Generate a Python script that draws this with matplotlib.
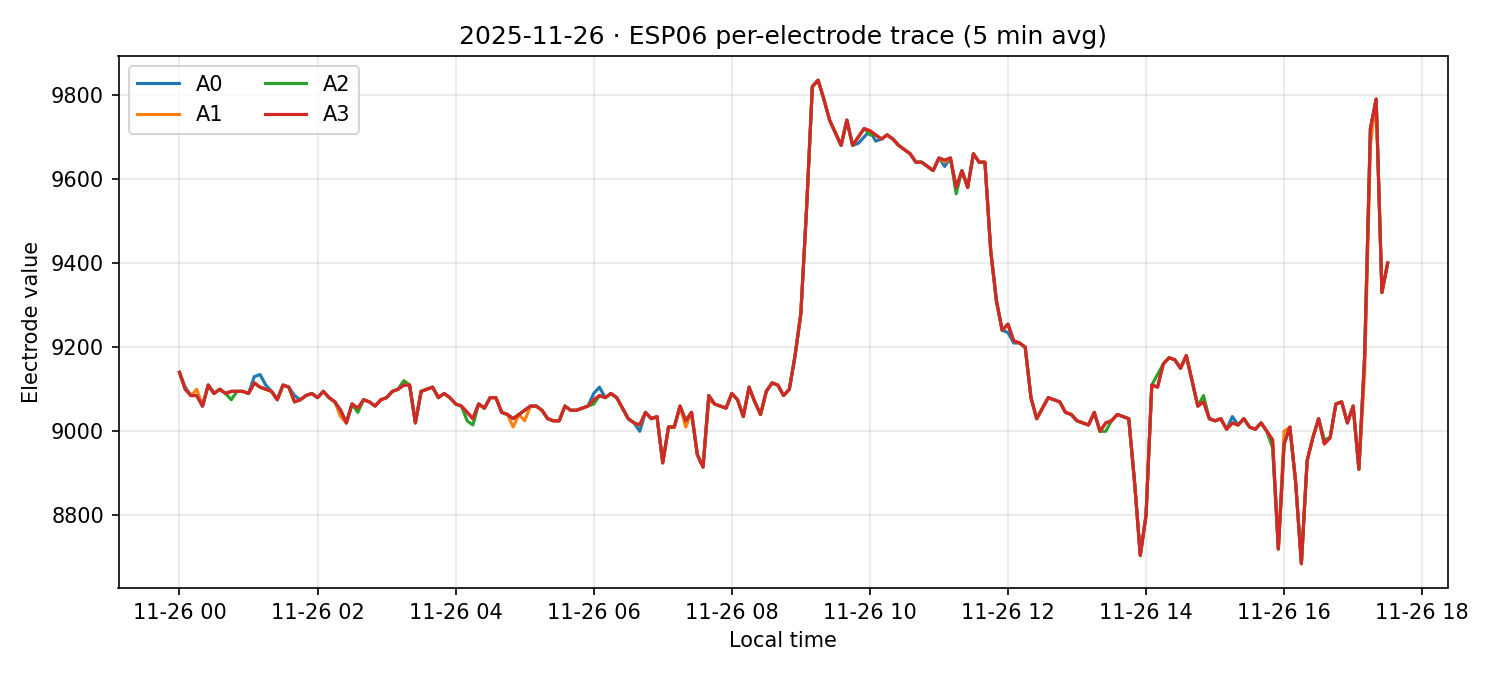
import pandas as pd
import matplotlib
matplotlib.use("Agg")
import matplotlib.pyplot as plt
import matplotlib.dates as mdates

# 5-minute averages, A3 trace
base = [
    9140, 9100, 9085, 9085, 9060, 9110, 9090, 9100, 9090, 9095, 9095, 9095, 9090,
    9115, 9105, 9100, 9095, 9075, 9110, 9105, 9070, 9075, 9085, 9090, 9080,
    9095, 9080, 9070, 9050, 9020, 9065, 9055, 9075, 9070, 9060, 9075, 9080, 9095,
    9100, 9110, 9110, 9020, 9095, 9100, 9105, 9080, 9090, 9080, 9065, 9060,
    9045, 9030, 9065, 9055, 9080, 9080, 9045, 9040, 9030, 9040, 9050, 9060, 9060,
    9050, 9030, 9025, 9025, 9060, 9050, 9050, 9055, 9060, 9075, 9085, 9080, 9090,
    9080, 9055, 9030, 9020, 9015, 9045, 9030, 9035, 8925, 9010, 9010, 9060,
    9025, 9045, 8945, 8915, 9085, 9065, 9060, 9055, 9090, 9075, 9035, 9105,
    9070, 9040, 9095, 9115, 9110, 9085, 9100, 9180, 9280, 9530, 9820, 9835, 9790,
    9740, 9710, 9680, 9740, 9680, 9700, 9720, 9715, 9705, 9695, 9705, 9695,
    9680, 9670, 9660, 9640, 9640, 9630, 9620, 9650, 9645, 9650,
    9580, 9620, 9580, 9660, 9640, 9640, 9430, 9310, 9240, 9255, 9215, 9210,
    9200, 9080, 9030, 9055, 9080, 9075, 9070, 9045, 9040, 9025, 9020, 9015,
    9045, 9000, 9020, 9025, 9040, 9035, 9030, 8880, 8705, 8800, 9110, 9105, 9160,
    9175, 9170, 9150, 9180, 9120, 9060, 9070, 9030, 9025, 9030, 9005, 9020,
    9015, 9030, 9010, 9005, 9020, 9000, 8980, 8720, 8970, 9010, 8880, 8685, 8930,
    8985, 9030, 8970, 8985, 9065, 9070, 9020, 9060, 8910, 9180, 9720, 9790,
    9330, 9400,
]

# per-electrode deviations from the A3 trace (index: offset)
dev_a0 = {1: 5, 13: 15, 14: 30, 15: 10, 20: 15, 72: 15, 73: 20, 80: -15, 118: -15, 119: -20,
          121: -15, 133: -15, 144: -20, 145: -5, 183: 15, 190: -10}
dev_a1 = {3: 15, 28: -15, 39: 10, 58: -20, 60: -25, 88: -15, 92: -10, 133: -5, 192: 30,
          206: -40, 207: -40, 213: 10}
dev_a2 = {9: -20, 31: -10, 39: 10, 50: -20, 51: -15, 72: -10, 120: -10, 135: -15,
          161: -20, 170: 30, 178: 15, 190: -20, 199: 10}

times = pd.date_range("2025-11-26 00:00", periods=len(base), freq="5min")

a3 = base
a0 = [v + dev_a0.get(i, 0) for i, v in enumerate(base)]
a1 = [v + dev_a1.get(i, 0) for i, v in enumerate(base)]
a2 = [v + dev_a2.get(i, 0) for i, v in enumerate(base)]

fig, ax = plt.subplots(figsize=(10, 4.5), dpi=150)
ax.plot(times, a0, color="tab:blue", lw=1.5, label="A0")
ax.plot(times, a1, color="tab:orange", lw=1.5, label="A1")
ax.plot(times, a2, color="tab:green", lw=1.5, label="A2")
ax.plot(times, a3, color="tab:red", lw=1.5, label="A3")

ax.xaxis.set_major_locator(mdates.HourLocator(byhour=range(0, 24, 2)))
ax.xaxis.set_major_formatter(mdates.DateFormatter("%m-%d %H"))
ax.set_xlim(pd.Timestamp("2025-11-25 23:07"), pd.Timestamp("2025-11-26 18:22"))
ax.set_yticks([8800, 9000, 9200, 9400, 9600, 9800])
ax.grid(True, alpha=0.3)
ax.set_xlabel("Local time")
ax.set_ylabel("Electrode value")
ax.set_title("2025-11-26 · ESP06 per-electrode trace (5 min avg)")
ax.legend(ncol=2, loc="upper left")
plt.subplots_adjust(left=0.079, right=0.965, top=0.917, bottom=0.129)
plt.savefig("out.png")
